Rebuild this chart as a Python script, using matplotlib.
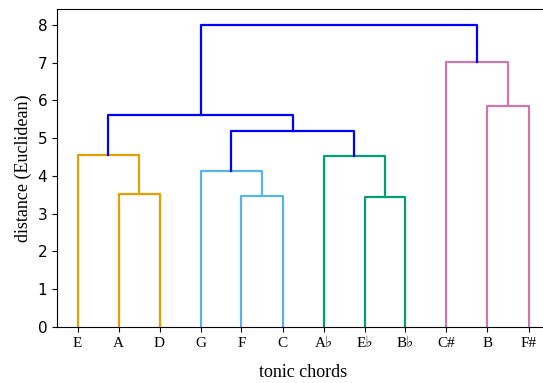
import numpy as np
from matplotlib import pyplot as plt

# leaf labels (original index order == plotted order)
list_label = ['E', 'A', 'D', 'G', 'F', 'C', 'A\u266d', 'E\u266d', 'B\u266d', 'C#', 'B', 'F#']
# linkage: (child a, child b, height); new cluster ids start at 12
list_merge = [(1, 2, 3.51), (4, 5, 3.46), (7, 8, 3.44),
              (0, 12, 4.55), (3, 13, 4.12), (6, 14, 4.54),
              (10, 11, 5.84), (16, 17, 5.20), (15, 19, 5.62),
              (9, 18, 7.02), (20, 21, 8.00)]
list_color = ['#E69F00', '#56B4E9', '#009E73',
              '#E69F00', '#56B4E9', '#009E73',
              '#CC79A7', 'b', 'b', '#CC79A7', 'b']

serif = ['Liberation Serif', 'DejaVu Serif']

n = len(list_label)
pos = {i: 5 + 10 * i for i in range(n)}
hgt = {i: 0.0 for i in range(n)}

fig = plt.figure(figsize=(5.43, 3.83), dpi=100)
ax = fig.add_axes([57 / 543, 56 / 383, 492 / 543, 318 / 383])
for k, (a, b, h) in enumerate(list_merge):
    xa, xb = pos[a], pos[b]
    ax.plot([xa, xa, xb, xb], [hgt[a], h, h, hgt[b]], c=list_color[k], linewidth=1.6)
    pos[n + k] = (xa + xb) / 2
    hgt[n + k] = h

ax.set_xlim(0, 10 * n)
ax.set_ylim(0, 8.42)
ax.spines['right'].set_visible(False)
ax.set_xticks([5 + 10 * i for i in range(n)])
ax.set_xticklabels(list_label, family=serif, fontsize=11)
ax.set_yticks(range(9))
ax.tick_params(labelsize=11)
ax.set_xlabel('tonic chords', family=serif, fontsize=13, labelpad=10)
ax.set_ylabel('distance (Euclidean)', family=serif, fontsize=13)
fig.savefig('out.png', dpi=100)
